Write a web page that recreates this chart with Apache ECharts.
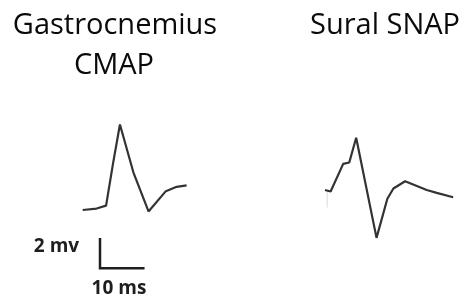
<!DOCTYPE html>
<html>
<head>
<meta charset="utf-8">
<script src="https://cdn.jsdelivr.net/npm/echarts@6/dist/echarts.min.js"></script>
<style>
  html, body { margin: 0; padding: 0; background: #fff; }
  #chart { width: 467px; height: 298px; }
</style>
</head>
<body>
<div id="chart"></div>
<script>
// Gastrocnemius CMAP trace (ms from onset, mV from baseline)
const cmapTime = [0, 3.2, 5.4, 7.0, 8.6, 11.7, 15.2, 19.2, 21.7, 24.0];
const cmapAmp = [0, 0.1, 0.3, 3.2, 5.9, 2.6, -0.1, 1.3, 1.6, 1.7];

// Sural SNAP trace
const snapTime = [0, 1.3, 4.2, 5.6, 7.2, 11.9, 14.4, 15.8, 18.5, 23.5, 25.8, 29.6];
const snapAmp = [0, -0.1, 1.8, 1.9, 3.6, -3.3, -0.6, 0.1, 0.6, 0, -0.2, -0.5];

// stimulus artefact at the start of the SNAP
const artTime = [0.5, 0.5];
const artAmp = [0, -1.2];

// calibration bar: 2 mV / 10 ms
const barTime = [0, 0, 10];
const barAmp = [2, 0, 0];

const zip = (a, b) => a.map((v, i) => [v, b[i]]);

// pixels per unit
const pxMs = 4.33;
const pxMv = 14.5;

// a grid placed so that (0 ms, 0 mV) lands on the given pixel
function makeGrid(ox, oy, xr, yr) {
  return {
    left: ox + xr[0] * pxMs,
    top: oy - yr[1] * pxMv,
    width: (xr[1] - xr[0]) * pxMs,
    height: (yr[1] - yr[0]) * pxMv
  };
}

const ranges = [
  { x: [-2, 26], y: [-1, 7], o: [82.7, 210] },
  { x: [-2, 32], y: [-4, 4], o: [325, 190] },
  { x: [-1, 11], y: [-0.5, 2.5], o: [100, 268.3] }
];

const chart = echarts.init(document.getElementById('chart'));

const titleFont = '29px "Open Sans"';
const labelFont = 'bold 19px "Open Sans"';

const option = {
  animation: false,
  backgroundColor: '#fff',
  grid: ranges.map(r => makeGrid(r.o[0], r.o[1], r.x, r.y)),
  xAxis: ranges.map((r, i) => ({
    type: 'value', gridIndex: i, min: r.x[0], max: r.x[1], show: false
  })),
  yAxis: ranges.map((r, i) => ({
    type: 'value', gridIndex: i, min: r.y[0], max: r.y[1], show: false
  })),
  series: [
    {
      type: 'line', xAxisIndex: 0, yAxisIndex: 0,
      data: zip(cmapTime, cmapAmp),
      showSymbol: false,
      lineStyle: { color: '#333', width: 2.2 }
    },
    {
      type: 'line', xAxisIndex: 1, yAxisIndex: 1,
      data: zip(artTime, artAmp),
      showSymbol: false,
      lineStyle: { color: '#e6e6e6', width: 1.5 }
    },
    {
      type: 'line', xAxisIndex: 1, yAxisIndex: 1,
      data: zip(snapTime, snapAmp),
      showSymbol: false,
      lineStyle: { color: '#333', width: 2.2 }
    },
    {
      type: 'line', xAxisIndex: 2, yAxisIndex: 2,
      data: zip(barTime, barAmp),
      showSymbol: false,
      lineStyle: { color: '#1e1e1e', width: 2.5, cap: 'square', join: 'miter' }
    }
  ],
  graphic: [
    {
      type: 'text', x: 115, y: 25.3,
      style: {
        text: 'Gastrocnemius', fill: '#0a0a0a',
        font: titleFont, align: 'center', verticalAlign: 'middle'
      }
    },
    {
      type: 'text', x: 114, y: 65.7,
      style: {
        text: 'CMAP', fill: '#0a0a0a',
        font: titleFont, align: 'center', verticalAlign: 'middle'
      }
    },
    {
      type: 'text', x: 385, y: 26,
      style: {
        text: 'Sural SNAP', fill: '#0a0a0a',
        font: titleFont, align: 'center', verticalAlign: 'middle'
      }
    },
    {
      type: 'text', x: 56.5, y: 246.6,
      style: {
        text: '2 mv', fill: '#1e1e1e',
        font: labelFont, align: 'center', verticalAlign: 'middle'
      }
    },
    {
      type: 'text', x: 119, y: 288.3,
      style: {
        text: '10 ms', fill: '#1e1e1e',
        font: labelFont, align: 'center', verticalAlign: 'middle'
      }
    }
  ]
};

chart.setOption(option);
window.addEventListener('resize', () => chart.resize());
</script>
</body>
</html>
